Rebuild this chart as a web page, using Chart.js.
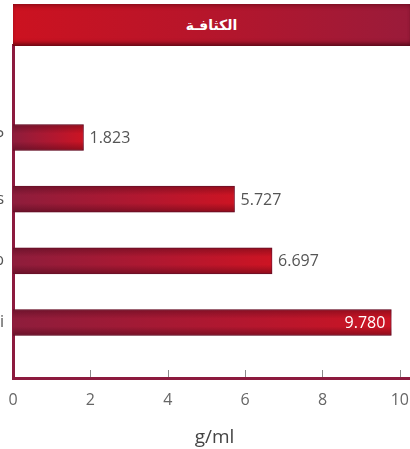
<!DOCTYPE html>
<html>
<head>
<meta charset="utf-8">
<script src="https://cdn.jsdelivr.net/npm/chart.js@4/dist/chart.umd.min.js"></script>
<style>
  html, body { margin: 0; padding: 0; background: #fff; overflow: hidden; }
  body { width: 410px; height: 449px; position: relative; }
  .chart__wrap { position: absolute; left: -27px; top: 0; width: 449px; height: 449px; }
  .chart__title {
    position: absolute; left: 13px; top: 4px; right: 0; height: 42px;
    background: linear-gradient(to right, #cc1220 0%, #b8152a 45%, #9a1b3a 100%);
    box-shadow: inset 0 4px 5px -3px rgba(60, 0, 10, 0.55), inset 0 -5px 5px -3px rgba(50, 0, 10, 0.75);
    color: #fff; font: bold 14px "DejaVu Sans", sans-serif;
    display: flex; align-items: center; justify-content: center;
    z-index: 2;
  }
</style>
</head>
<body>
<div class="chart__wrap"><canvas id="chart"></canvas></div>
<div class="chart__title" dir="rtl">الكثافـة</div>
<script>
const elements = ["P", "As", "Sb", "Bi"];
const densities = [1.823, 5.727, 6.697, 9.78];
const xTicks = [0, 2, 4, 6, 8, 10];
const axisTitle = "g/ml";

const maroon = "#8c1a3e";

// bars go darker on the left, bright red at the end
function barGradient(context) {
  const chart = context.chart;
  const { ctx, chartArea } = chart;
  if (!chartArea) return "#b3152d";
  const value = densities[context.dataIndex];
  const x0 = chart.scales.x.getPixelForValue(0);
  const x1 = chart.scales.x.getPixelForValue(value);
  const g = ctx.createLinearGradient(x0, 0, x1, 0);
  g.addColorStop(0, "#8e1d3c");
  g.addColorStop(0.6, "#b3172f");
  g.addColorStop(1, "#cc1423");
  return g;
}

// darker top and bottom edge on each bar (the "tube" look)
const barShade = {
  id: "barShade",
  afterDatasetsDraw(chart) {
    const { ctx } = chart;
    const meta = chart.getDatasetMeta(0);
    ctx.save();
    meta.data.forEach((bar) => {
      const top = bar.y - bar.height / 2;
      const g = ctx.createLinearGradient(0, top, 0, top + bar.height);
      g.addColorStop(0, "rgba(50,0,15,0.35)");
      g.addColorStop(0.35, "rgba(50,0,15,0)");
      g.addColorStop(0.65, "rgba(50,0,15,0)");
      g.addColorStop(1, "rgba(50,0,15,0.4)");
      ctx.fillStyle = g;
      ctx.fillRect(bar.base, top, bar.x - bar.base, bar.height);
    });
    ctx.restore();
  },
};

const valueLabels = {
  id: "valueLabels",
  afterDatasetsDraw(chart) {
    const { ctx } = chart;
    const meta = chart.getDatasetMeta(0);
    ctx.save();
    ctx.font = "16px 'Open Sans', sans-serif";
    ctx.textBaseline = "middle";
    meta.data.forEach((bar, i) => {
      const text = densities[i].toFixed(3);
      if (densities[i] > 9) {
        ctx.fillStyle = "#ffffff";
        ctx.textAlign = "right";
        ctx.fillText(text, bar.x - 6, bar.y + 1);
      } else {
        ctx.fillStyle = "#555555";
        ctx.textAlign = "left";
        ctx.fillText(text, bar.x + 6, bar.y + 1);
      }
    });
    ctx.restore();
  },
};

// small tick marks pointing up from the x axis
const innerTicks = {
  id: "innerTicks",
  afterDraw(chart) {
    const { ctx } = chart;
    const x = chart.scales.x;
    ctx.save();
    ctx.strokeStyle = "#8a8a8a";
    ctx.lineWidth = 1;
    xTicks.slice(1).forEach((v) => {
      const px = Math.round(x.getPixelForValue(v)) + 0.5;
      ctx.beginPath();
      ctx.moveTo(px, x.top - 1);
      ctx.lineTo(px, x.top - 8);
      ctx.stroke();
    });
    ctx.restore();
  },
};

new Chart(document.getElementById("chart"), {
  type: "bar",
  data: {
    datasets: [
      {
        data: densities.map((d, i) => ({ x: d, y: i + 1 })),
        backgroundColor: barGradient,
        borderColor: "#7d1631",
        borderWidth: 1,
        borderSkipped: "left",
        barThickness: 26,
      },
    ],
  },
  plugins: [barShade, valueLabels, innerTicks],
  options: {
    indexAxis: "y",
    responsive: true,
    maintainAspectRatio: false,
    animation: false,
    layout: { padding: { top: 45, right: 0, left: 0, bottom: 0 } },
    plugins: {
      legend: { display: false },
      tooltip: { enabled: false },
    },
    scales: {
      x: {
        type: "linear",
        min: 0,
        max: 10.42,
        offset: false,
        afterBuildTicks(scale) {
          scale.ticks = xTicks.map((v) => ({ value: v }));
        },
        afterFit(scale) {
          scale.height = 71;
        },
        grid: { display: false, drawTicks: false },
        border: { display: true, color: maroon, width: 3 },
        ticks: {
          padding: 13,
          color: "#666",
          font: { family: "'Open Sans', sans-serif", size: 16 },
        },
        title: {
          display: true,
          text: axisTitle,
          color: "#444",
          font: { family: "'Open Sans', sans-serif", size: 19 },
          padding: { top: 0, bottom: 0 },
        },
      },
      y: {
        type: "linear",
        reverse: true,
        min: -0.5,
        max: 4.9,
        offset: false,
        afterBuildTicks(scale) {
          scale.ticks = elements.map((e, i) => ({ value: i + 1 }));
        },
        afterFit(scale) {
          scale.width = 40;
        },
        grid: { display: false, drawTicks: false },
        border: { display: true, color: maroon, width: 3 },
        ticks: {
          padding: 9,
          color: "#555",
          font: { family: "'Open Sans', sans-serif", size: 16 },
          callback: (v) => elements[v - 1],
        },
      },
    },
  },
});
</script>
</body>
</html>
